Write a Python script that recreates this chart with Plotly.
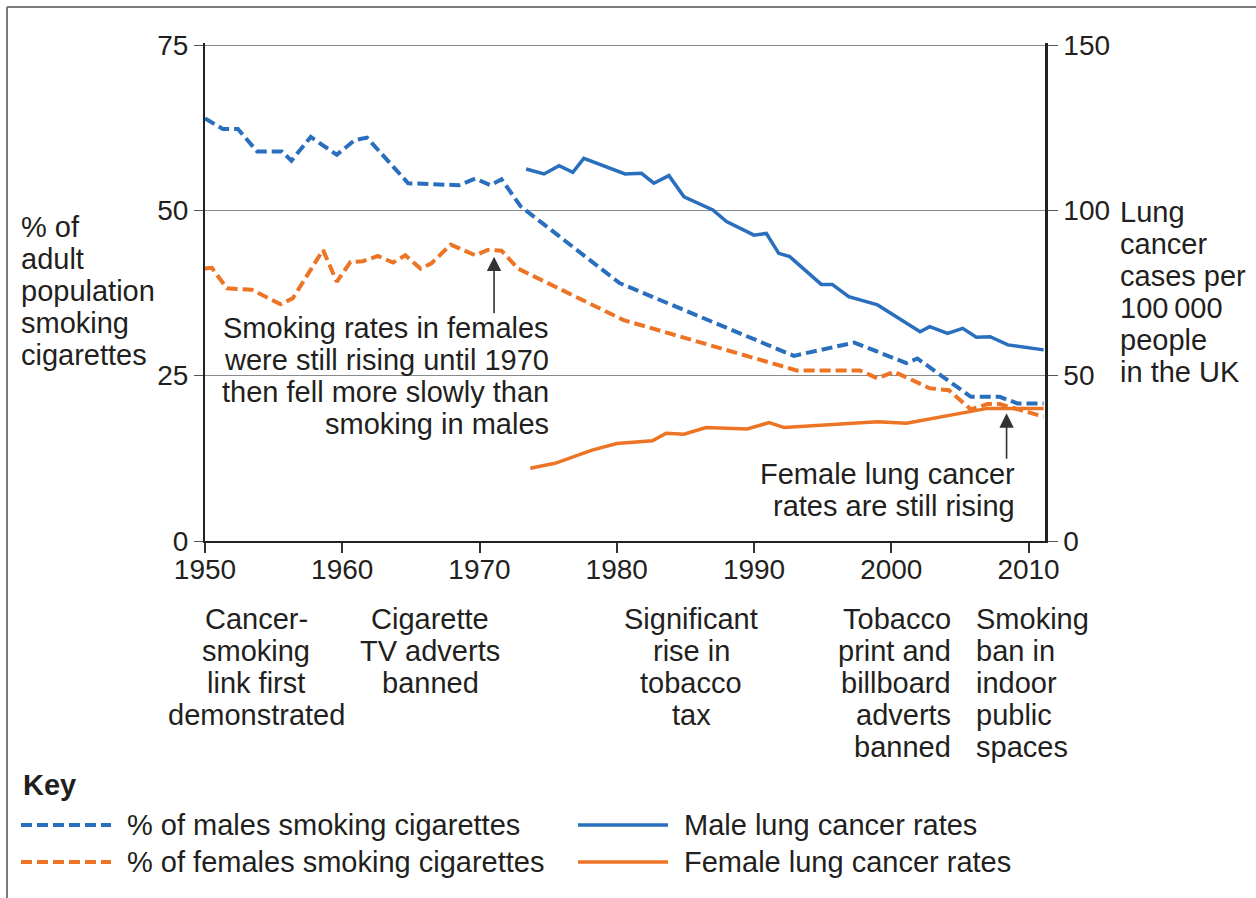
import plotly.graph_objects as go

# ---------------- data ----------------
male_smoke_year = [1950, 1951.3, 1952.4, 1953.8, 1955.6, 1956.3, 1957.7, 1959.6, 1960.9, 1961.8,
                   1964.8, 1968.5, 1969.7, 1970.8, 1971.6, 1973.0, 1980.2, 1992.9, 1997.3,
                   2001.1, 2001.9, 2005.8, 2007.9, 2009.2, 2011.1]
male_smoke_pct = [63.9, 62.3, 62.3, 58.9, 58.9, 57.5, 61.1, 58.4, 60.6, 61.0,
                  54.1, 53.8, 54.8, 53.8, 54.7, 50.6, 39.0, 28.0, 30.0,
                  26.9, 27.6, 21.8, 21.8, 20.8, 20.8]

female_smoke_year = [1950, 1950.5, 1951.6, 1953.4, 1955.5, 1956.4, 1958.6, 1959.6, 1960.6, 1961.5,
                     1962.6, 1963.7, 1964.6, 1965.7, 1966.5, 1967.9, 1969.7, 1970.6, 1971.6,
                     1972.8, 1980.5, 1993.1, 1997.7, 1999.0, 2000.2, 2002.8, 2004.2, 2005.8,
                     2007.0, 2007.9, 2011.1]
female_smoke_pct = [41.2, 41.3, 38.2, 38.0, 35.8, 36.7, 44.0, 39.2, 42.2, 42.3,
                    43.1, 42.1, 43.2, 41.2, 42.0, 44.8, 43.2, 44.0, 43.9,
                    41.2, 33.4, 25.8, 25.8, 24.6, 25.6, 23.1, 22.8, 19.9,
                    20.7, 20.7, 18.8]

male_cancer_year = [1973.4, 1974.7, 1975.8, 1976.8, 1977.6, 1980.6, 1981.8, 1982.7, 1983.8, 1984.9,
                    1987.0, 1988.0, 1990.0, 1990.9, 1991.8, 1992.6, 1994.9, 1995.7, 1996.9,
                    1999.0, 2002.1, 2002.8, 2004.1, 2005.2, 2006.2, 2007.2, 2008.5, 2011.1]
male_cancer_rate = [112.5, 111.0, 113.5, 111.5, 115.7, 111.0, 111.2, 108.2, 110.5, 104.1,
                    100.1, 96.6, 92.5, 93.0, 87.0, 86.0, 77.6, 77.6, 73.9,
                    71.4, 63.3, 64.8, 62.8, 64.3, 61.6, 61.8, 59.3, 57.8]

female_cancer_year = [1973.7, 1975.5, 1978.2, 1980.0, 1982.6, 1983.6, 1984.9, 1986.5, 1989.5,
                      1991.1, 1992.2, 1999.0, 2001.1, 2007.0, 2011.1]
female_cancer_rate = [22.0, 23.5, 27.5, 29.5, 30.3, 32.6, 32.3, 34.3, 33.9,
                      35.8, 34.3, 36.1, 35.6, 40.1, 40.1]

series_names = ["% of males smoking cigarettes", "% of females smoking cigarettes",
                "Male lung cancer rates", "Female lung cancer rates"]

x_ticks = [1950, 1960, 1970, 1980, 1990, 2000, 2010]
left_ticks = [0, 25, 50, 75]
right_ticks = [0, 50, 100, 150]

# ---------------- style ----------------
BLUE = "#2a6fbd"
ORANGE = "#ec7424"
TXT = "#231f20"
FONT = "Liberation Sans, Arial, Helvetica, sans-serif"
FS = 29
DASH = "11px,5px"
W, H = 1256, 898
L, R, T, B = 205, 211, 43, 357          # plot area: x 205..1045, y 43..541
PW, PH = W - L - R, H - T - B
# 75 % / 150 sits 2 px below the top of the plot area so its grid line is drawn
Y_TOP = 75 * PH / (PH - 2)


def px2x(px):
    return (px - L) / PW


def py2y(py):
    return (H - B - py) / PH


styles = [dict(color=BLUE, width=4, dash=DASH), dict(color=ORANGE, width=4, dash=DASH),
          dict(color=BLUE, width=3.5), dict(color=ORANGE, width=3.5)]

fig = go.Figure()
fig.add_trace(go.Scatter(x=male_smoke_year, y=male_smoke_pct, mode="lines",
                         name=series_names[0], line=styles[0]))
fig.add_trace(go.Scatter(x=female_smoke_year, y=female_smoke_pct, mode="lines",
                         name=series_names[1], line=styles[1]))
fig.add_trace(go.Scatter(x=male_cancer_year, y=male_cancer_rate, mode="lines", yaxis="y2",
                         name=series_names[2], line=styles[2]))
fig.add_trace(go.Scatter(x=female_cancer_year, y=female_cancer_rate, mode="lines", yaxis="y2",
                         name=series_names[3], line=styles[3]))

fig.update_layout(
    width=W, height=H,
    margin=dict(l=L, r=R, t=T, b=B),
    paper_bgcolor="white", plot_bgcolor="white",
    font=dict(family=FONT, size=FS, color=TXT),
    showlegend=False,
    xaxis=dict(range=[1950, 2011.2], tickvals=x_ticks, ticks="outside", ticklen=10,
               tickwidth=1.5, tickcolor="#333", showline=True, linecolor="#222", linewidth=2,
               showgrid=False, zeroline=False, ticklabelstandoff=-8,
               tickfont=dict(size=28, color=TXT)),
    yaxis=dict(range=[0, Y_TOP], tickvals=left_ticks, ticks="outside", ticklen=9, tickwidth=1.2,
               tickcolor="#555", showline=True, linecolor="#222", linewidth=2,
               showgrid=True, gridcolor="#8a8a8a", gridwidth=1.2, zeroline=False,
               tickfont=dict(size=28, color=TXT)),
    yaxis2=dict(range=[0, 2 * Y_TOP], tickvals=right_ticks, overlaying="y", side="right",
                ticks="outside", ticklen=10, tickwidth=1.2, tickcolor="#555",
                showline=True, linecolor="#222", linewidth=2.5, showgrid=False,
                zeroline=False, tickfont=dict(size=28, color=TXT)),
)

# frame (top and left edges)
fig.add_shape(type="line", xref="paper", yref="paper", x0=px2x(7), x1=px2x(W), y0=py2y(7), y1=py2y(7),
              line=dict(color="#7a7a7a", width=2))
fig.add_shape(type="line", xref="paper", yref="paper", x0=px2x(7), x1=px2x(7), y0=py2y(7), y1=py2y(H),
              line=dict(color="#7a7a7a", width=2))


def add_lines(lines, px, py_first, anchor, spacing=32.1, size=FS, bold=False):
    for i, t in enumerate(lines):
        fig.add_annotation(text=f"<b>{t}</b>" if bold else t, xref="paper", yref="paper",
                           x=px2x(px), y=py2y(py_first + i * spacing), xanchor=anchor,
                           yanchor="middle", showarrow=False,
                           font=dict(size=size, color=TXT, family=FONT), borderpad=0)


def add_arrow(x, y, yref, ay):
    fig.add_annotation(x=x, y=y, xref="x", yref=yref, text="", showarrow=True, ax=0, ay=ay,
                       arrowhead=2, arrowsize=1.8, arrowwidth=1.6, arrowcolor="#333", standoff=0)


# axis titles
add_lines(["% of", "adult", "population", "smoking", "cigarettes"], 20, 226.7, "left")
add_lines(["Lung", "cancer", "cases per", "100\u2009000", "people", "in the UK"], 1119, 211.7, "left")

# notes inside the plot
add_lines(["Smoking rates in females", "were still rising until 1970",
           "then fell more slowly than", "smoking in males"], 550, 328, "right")
add_arrow(1971.06, 43.0, "y", 58)
add_lines(["Female lung cancer", "rates are still rising"], 1016, 474, "right")
add_arrow(2008.4, 38.6, "y2", 47)

# events below the x axis
add_lines(["Cancer-", "smoking", "link first", "demonstrated"], 256, 619, "center")
add_arrow(1953.75, -0.6, "y", 55)
add_lines(["Cigarette", "TV adverts", "banned"], 430, 619, "center")
add_arrow(1966.4, -0.6, "y", 55)
add_lines(["Significant", "rise in", "tobacco", "tax"], 691, 619, "center")
add_arrow(1985.6, -0.6, "y", 55)
add_lines(["Tobacco", "print and", "billboard", "adverts", "banned"], 952, 619, "right")
add_arrow(2004.0, -0.6, "y", 55)
add_lines(["Smoking", "ban in", "indoor", "public", "spaces"], 975, 619, "left")
add_arrow(2006.7, -0.6, "y", 55)

# key (two columns: smoking rates left, cancer rates right)
add_lines(["Key"], 22, 785, "left", bold=True)
key_slots = [(21, 825), (21, 862), (578, 825), (578, 862)]
for (kx, ky), nm, st in zip(key_slots, series_names, styles):
    fig.add_shape(type="line", xref="paper", yref="paper", x0=px2x(kx), x1=px2x(kx + 90),
                  y0=py2y(ky), y1=py2y(ky), line=st)
    add_lines([nm], kx + 105, ky, "left")

# the figure is exactly the window size, so drop the page's default body margin
fig.write_html("out.html", config={"displayModeBar": False},
               post_script="document.body.style.margin='0';document.body.style.padding='0';")
